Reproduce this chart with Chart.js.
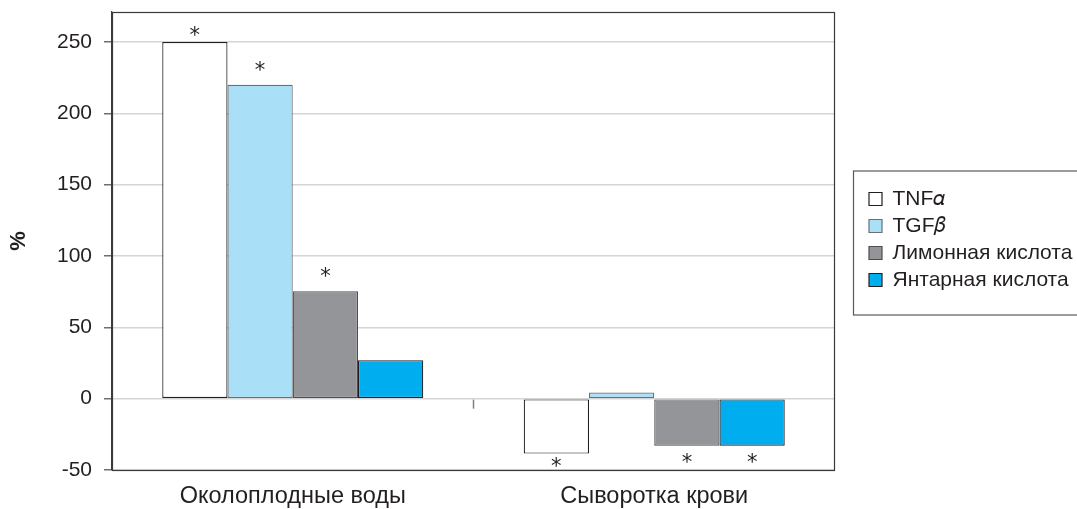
<!DOCTYPE html>
<html>
<head>
<meta charset="utf-8">
<script src="https://cdn.jsdelivr.net/npm/chart.js@4.4.1/dist/chart.umd.min.js"></script>
<style>
  html, body { margin: 0; padding: 0; background: #fff; overflow: hidden; }
  #wrap { width: 1077px; height: 509px; position: relative; }
</style>
</head>
<body>
<div id="wrap"><canvas id="chart"></canvas></div>
<script>
// Categories and series values (% change)
const categories = ['Околоплодные воды', 'Сыворотка крови'];
const seriesNames = ['TNF𝛼', 'TGF𝛽', 'Лимонная кислота', 'Янтарная кислота'];
const tnfAlpha = [250, -38.5];
const tgfBeta = [220, 4.3];
const citricAcid = [75.3, -33];
const succinicAcid = [27, -33];

// Statistically significant differences, marked with an asterisk
const tnfAlphaSig = [true, true];
const tgfBetaSig = [true, false];
const citricAcidSig = [true, true];
const succinicAcidSig = [false, true];

const yTicks = [-50, 0, 50, 100, 150, 200, 250];

const FONT = "'Liberation Sans', Arial, sans-serif";
const TEXT = '#231f20';

const seriesValues = [tnfAlpha, tgfBeta, citricAcid, succinicAcid];
const seriesSig = [tnfAlphaSig, tgfBetaSig, citricAcidSig, succinicAcidSig];
const fills = ['#ffffff', '#a9e0f8', '#939598', '#00aeef'];
const strokes = ['#231f20', '#6d6e71', '#4d4d4f', '#231f20'];

const chartDecor = {
  id: 'chartDecor',
  afterInit(chart) {
    // fixed-width legend column on the right; its text runs past the canvas edge
    const lg = chart.legend;
    const fit = lg.fit.bind(lg);
    lg.fit = function () { fit(); if (!this.isHorizontal()) this.width = 242; };
  },
  afterLayout(chart) {
    const lg = chart.legend;
    lg.left += 28; lg.right += 28;
    lg.top -= 21; lg.bottom -= 21;
  },
  afterDraw(chart) {
    const { ctx, chartArea: a, scales } = chart;
    const xs = scales.x, ys = scales.y;
    ctx.save();
    // plot frame
    ctx.strokeStyle = '#3a3a3a';
    ctx.lineWidth = 1.2;
    ctx.strokeRect(a.left + 0.5, a.top + 0.5, a.right - a.left - 1, a.bottom - a.top);

    // small tick between the two groups on the zero line
    const y0 = ys.getPixelForValue(0);
    const xm = (xs.getPixelForValue(0) + xs.getPixelForValue(1)) / 2;
    ctx.strokeStyle = '#808080';
    ctx.lineWidth = 1.5;
    ctx.beginPath();
    ctx.moveTo(xm, y0 + 1);
    ctx.lineTo(xm, y0 + 10);
    ctx.stroke();

    // legend frame
    const lg = chart.legend;
    const hb = lg.legendHitBoxes;
    if (hb && hb.length) {
      const top = hb[0].top - 18;
      const last = hb[hb.length - 1];
      const bottom = last.top + last.height + 24;
      ctx.strokeStyle = '#58595b';
      ctx.lineWidth = 1.2;
      ctx.strokeRect(lg.left - 10 + 0.5, top + 0.5, 400, bottom - top);
    }

    // significance asterisks
    ctx.fillStyle = TEXT;
    ctx.font = "21px 'DejaVu Sans', sans-serif";
    ctx.textAlign = 'center';
    ctx.textBaseline = 'alphabetic';
    const m = ctx.measureText('*');
    const glyphMid = (m.actualBoundingBoxAscent - m.actualBoundingBoxDescent) / 2;
    seriesSig.forEach((sig, di) => {
      const meta = chart.getDatasetMeta(di);
      sig.forEach((on, i) => {
        if (!on) return;
        const bar = meta.data[i];
        const v = seriesValues[di][i];
        let cy;
        if (v >= 0) cy = Math.max(bar.y - 19, a.top + 19);
        else cy = Math.min(bar.y + 12, a.bottom - 8);
        ctx.fillText('*', bar.x, cy + glyphMid);
      });
    });
    ctx.restore();
  }
};

new Chart(document.getElementById('chart'), {
  type: 'bar',
  data: {
    labels: categories,
    datasets: seriesNames.map((name, i) => ({
      label: name,
      data: seriesValues[i],
      backgroundColor: fills[i],
      borderColor: strokes[i],
      borderWidth: 1.2,
      borderSkipped: false,
      categoryPercentage: 0.722,
      barPercentage: 1
    }))
  },
  options: {
    responsive: true,
    maintainAspectRatio: false,
    animation: false,
    layout: { padding: { top: 12, left: 0, right: 0, bottom: 0 } },
    plugins: {
      tooltip: { enabled: false },
      legend: {
        position: 'right',
        labels: {
          font: { family: FONT, size: 21 },
          color: TEXT,
          boxWidth: 13,
          boxHeight: 13,
          padding: 6
        }
      }
    },
    scales: {
      x: {
        grid: { display: false, drawTicks: false },
        border: { display: false },
        ticks: { font: { family: FONT, size: 23.5 }, color: TEXT, padding: 12 },
        afterFit(s) { s.height = 39; s.paddingLeft = 0; s.paddingRight = 0; }
      },
      y: {
        min: -50,
        max: 271,
        afterBuildTicks(s) { s.ticks = yTicks.map(v => ({ value: v })); },
        ticks: { font: { family: FONT, size: 21 }, color: TEXT, padding: 12 },
        grid: { color: '#d5d5d5', lineWidth: 1.5, tickLength: 8, tickColor: '#6d6e71' },
        border: { color: '#3a3a3a', width: 1.2 },
        title: {
          display: true,
          text: '%',
          font: { family: FONT, size: 22, weight: 'bold' },
          color: TEXT,
          padding: { top: 6, bottom: 0 }
        },
        afterFit(s) { s.width = 112; s.paddingTop = 0; s.paddingBottom = 0; }
      }
    }
  },
  plugins: [chartDecor]
});
</script>
</body>
</html>
